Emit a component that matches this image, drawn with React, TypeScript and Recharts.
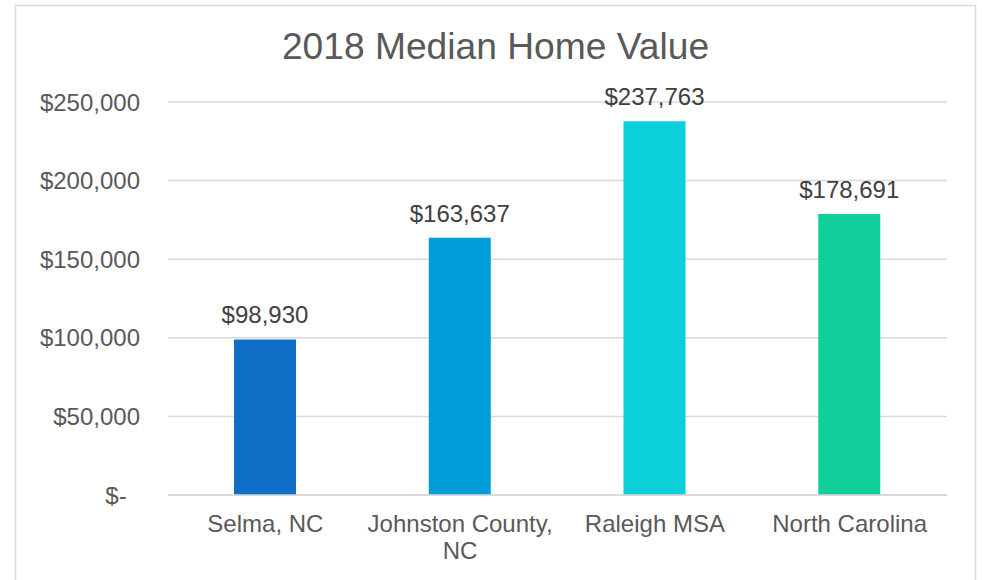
import React from "react";
import { BarChart, Bar, XAxis, YAxis, CartesianGrid, Cell, LabelList } from "recharts";

const title = "2018 Median Home Value";
const categories = ["Selma, NC", "Johnston County, NC", "Raleigh MSA", "North Carolina"];
const values = [98930, 163637, 237763, 178691];
const colors = ["#0F6FC6", "#009DD9", "#0BD0D9", "#10CF9B"];
const yTicks = [0, 50000, 100000, 150000, 200000, 250000];

const data = categories.map((name, i) => ({ name, value: values[i] }));

const FONT = "'Liberation Sans', Arial, sans-serif";
const TICK_COLOR = "#595959";
const LABEL_COLOR = "#404040";
const GRID = "#d9d9d9";

const money = (v: number) => (v === 0 ? "$-\u00A0\u00A0" : "$" + v.toLocaleString("en-US"));

function wrap(text: string, max = 17): string[] {
  const words = text.split(" ");
  const lines: string[] = [];
  let cur = "";
  for (const w of words) {
    const next = cur ? cur + " " + w : w;
    if (next.length > max && cur) {
      lines.push(cur);
      cur = w;
    } else {
      cur = next;
    }
  }
  if (cur) lines.push(cur);
  return lines;
}

function CatTick(props: any) {
  const { x, y, payload } = props;
  const lines = wrap(String(payload.value));
  return (
    <text x={x} y={y} textAnchor="middle" fill={TICK_COLOR} fontSize={24} fontFamily={FONT}>
      {lines.map((l, i) => (
        <tspan key={i} x={x} dy={i === 0 ? 29 : 27}>
          {l}
        </tspan>
      ))}
    </text>
  );
}

export default function App() {
  return (
    <div style={{ position: "absolute", left: 0, top: 0, width: 982, height: 580, overflow: "hidden", background: "#fff" }}>
      <svg width={982} height={580} style={{ position: "absolute", left: 0, top: 0 }}>
        <rect x={15.5} y={5.5} width={960} height={620} fill="#fff" stroke={GRID} strokeWidth={1.5} />
        <text x={495.5} y={59} textAnchor="middle" fill={TICK_COLOR} fontSize={37.2} fontFamily={FONT}>
          {title}
        </text>
      </svg>
      <div style={{ position: "absolute", left: 0, top: 0 }}>
        <BarChart width={982} height={580} data={data} margin={{ top: 102, right: 35, bottom: 25, left: 18 }}>
          <CartesianGrid vertical={false} stroke={GRID} strokeWidth={1.5} />
          <XAxis
            dataKey="name"
            interval={0}
            height={60}
            tickLine={false}
            axisLine={{ stroke: GRID, strokeWidth: 1.5 }}
            tick={<CatTick />}
          />
          <YAxis
            domain={[0, 250000]}
            ticks={yTicks}
            width={150}
            axisLine={false}
            tickLine={false}
            tickMargin={22}
            tickFormatter={money}
            tick={{ fill: TICK_COLOR, fontSize: 24, fontFamily: FONT }}
          />
          <Bar dataKey="value" barSize={62} isAnimationActive={false}>
            {data.map((d, i) => (
              <Cell key={d.name} fill={colors[i]} />
            ))}
            <LabelList
              dataKey="value"
              position="top"
              offset={16}
              formatter={(v: any) => money(Number(v))}
              fill={LABEL_COLOR}
              fontSize={24}
              fontFamily={FONT}
            />
          </Bar>
        </BarChart>
      </div>
    </div>
  );
}
